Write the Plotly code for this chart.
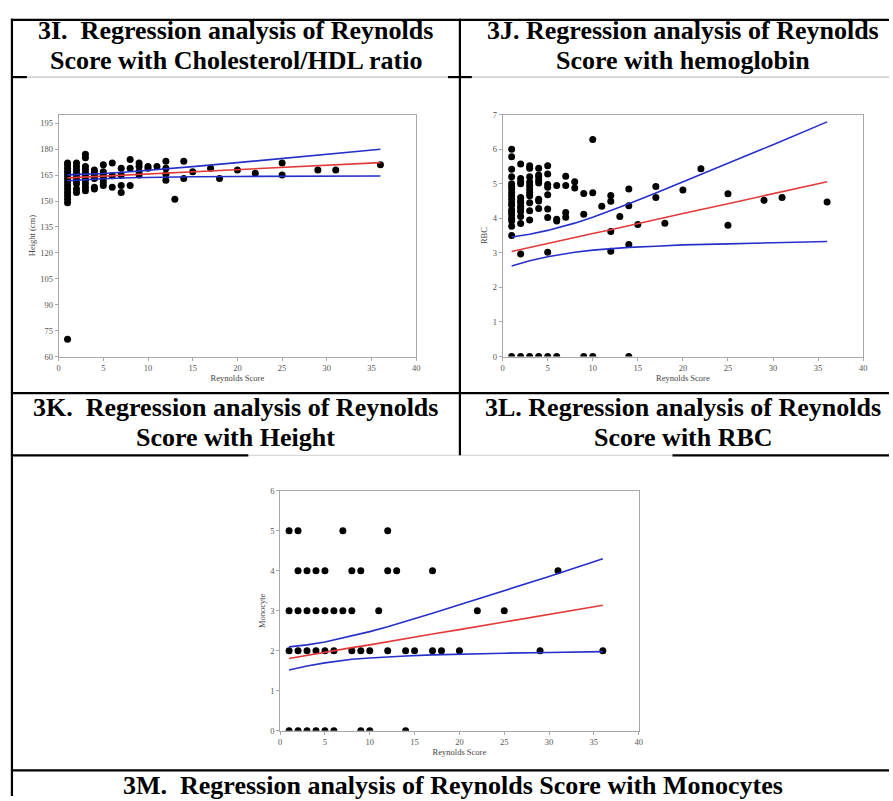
import plotly.graph_objects as go

W, H = 893, 801

# ---------------- Panel 3I (Height vs Reynolds Score) ----------------
h_score = [1, 1, 1, 1, 1, 1, 1, 1, 1, 1, 1, 1, 1, 1,
           2, 2, 2, 2, 2, 2, 2, 2, 2,
           3, 3, 3, 3, 3, 3, 3, 3, 3, 3,
           4, 4, 4, 4, 4, 4,
           5, 5, 5, 5, 5, 5,
           6, 6, 6,
           7, 7, 7, 7,
           8, 8, 8,
           9, 9, 9, 9,
           10, 10, 11,
           12, 12, 12, 12,
           13, 14, 14, 15, 17, 18, 20, 22, 25, 25, 29, 31, 36]
h_height = [149, 151, 153, 155, 157, 159, 161, 163, 165, 167, 169, 171, 172, 70,
            155, 157, 160, 162, 164, 166, 168, 170, 172,
            156, 158, 160, 162, 164, 166, 168, 170, 175, 177,
            157, 158, 163, 165, 167, 168,
            159, 161, 163, 165, 167, 171,
            158, 164.6, 172,
            155, 159, 165, 169,
            159, 169, 174,
            165, 167, 170, 172,
            169, 170, 170,
            162, 165.5, 169, 173,
            151, 163, 173, 167, 169, 163, 168, 166, 165, 172, 168, 168, 171]
h_band_x = [1, 3, 5, 8, 10, 12, 15, 20, 25, 30, 36]
h_fit = [163.4, 163.9, 164.4, 165.2, 165.7, 166.2, 166.9, 168.2, 169.4, 170.7, 172.2]
h_upper = [165.1, 165.4, 165.9, 166.9, 167.7, 168.5, 169.9, 172.2, 174.6, 177.0, 180.0]
h_lower = [161.7, 162.4, 162.9, 163.5, 163.7, 163.9, 164.0, 164.2, 164.3, 164.4, 164.5]
h_ticks = [60, 75, 90, 105, 120, 135, 150, 165, 180, 195]

# ---------------- Panel 3J (RBC vs Reynolds Score) ----------------
r_score = [1, 1, 1, 1, 1, 1, 1, 1, 1, 1, 1, 1, 1, 1, 1, 1, 1, 1, 1, 1,
           2, 2, 2, 2, 2, 2, 2, 2, 2, 2, 2, 2, 2, 2,
           3, 3, 3, 3, 3, 3, 3, 3, 3, 3, 3, 3,
           4, 4, 4, 4, 4, 4, 4, 4, 4,
           5, 5, 5, 5, 5, 5, 5, 5, 5,
           6, 6, 6, 6,
           7, 7, 7, 7,
           8, 8,
           9, 9, 9,
           10, 10, 10,
           11,
           12, 12, 12, 12,
           13,
           14, 14, 14, 14,
           15, 17, 17, 18, 20, 22, 25, 25, 29, 31, 36]
r_rbc = [6.0, 5.78, 5.42, 5.2, 5.0, 4.92, 4.85, 4.75, 4.65, 4.55, 4.45, 4.38, 4.25, 4.18, 4.1, 4.0, 3.92, 3.77, 3.5, 0,
         5.57, 5.15, 5.05, 5.0, 4.6, 4.5, 4.45, 4.35, 4.28, 4.2, 4.05, 3.85, 2.97, 0,
         5.52, 5.45, 5.2, 5.05, 4.95, 4.85, 4.75, 4.65, 4.45, 4.22, 3.95, 0,
         5.45, 5.25, 5.2, 5.1, 5.02, 4.55, 4.5, 4.28, 0,
         5.52, 5.28, 4.98, 4.9, 4.68, 4.27, 4.02, 3.02, 0,
         4.95, 3.97, 3.92, 0,
         5.22, 4.95, 4.17, 4.03,
         5.06, 4.88,
         4.72, 4.12, 0,
         6.28, 4.74, 0,
         4.35,
         4.66, 4.49, 3.62, 3.05,
         4.05,
         4.85, 4.36, 3.24, 0,
         3.82, 4.92, 4.6, 3.86, 4.82, 5.43, 4.71, 3.8, 4.52, 4.6, 4.47]
r_band_x = [1, 3, 5, 8, 10, 12, 14, 17, 20, 25, 30, 36]
r_fit = [3.04, 3.16, 3.27, 3.44, 3.56, 3.67, 3.79, 3.96, 4.14, 4.42, 4.71, 5.06]
r_upper = [3.46, 3.54, 3.65, 3.86, 4.03, 4.22, 4.42, 4.73, 5.05, 5.58, 6.13, 6.79]
r_lower = [2.62, 2.77, 2.89, 3.02, 3.08, 3.12, 3.16, 3.19, 3.23, 3.26, 3.29, 3.33]

# ---------------- Panel 3M (Monocyte vs Reynolds Score) ----------------
m_score = [1, 2, 7, 12,
           2, 3, 4, 5, 8, 9, 12, 13, 17, 31,
           1, 2, 3, 4, 5, 6, 7, 8, 11, 22, 25,
           1, 2, 3, 4, 5, 6, 8, 9, 10, 12, 14, 15, 17, 18, 20, 29, 36,
           1, 2, 3, 4, 5, 6, 9, 10, 14]
m_mono = [5, 5, 5, 5,
          4, 4, 4, 4, 4, 4, 4, 4, 4, 4,
          3, 3, 3, 3, 3, 3, 3, 3, 3, 3, 3,
          2, 2, 2, 2, 2, 2, 2, 2, 2, 2, 2, 2, 2, 2, 2, 2, 2,
          0, 0, 0, 0, 0, 0, 0, 0, 0]
m_band_x = [1, 3, 5, 8, 10, 12, 14, 17, 20, 25, 30, 36]
m_fit = [1.81, 1.89, 1.96, 2.08, 2.15, 2.23, 2.30, 2.42, 2.53, 2.72, 2.91, 3.14]
m_upper = [2.10, 2.15, 2.22, 2.37, 2.48, 2.60, 2.73, 2.94, 3.15, 3.50, 3.86, 4.30]
m_lower = [1.52, 1.62, 1.70, 1.79, 1.82, 1.85, 1.87, 1.90, 1.92, 1.94, 1.96, 1.98]

x_title = "Reynolds Score"
panel_titles = [
    ("3I.\u00a0 Regression analysis of Reynolds", "Score with Cholesterol/HDL ratio"),
    ("3J. Regression analysis of Reynolds", "Score with hemoglobin"),
    ("3K.\u00a0 Regression analysis of Reynolds", "Score with Height"),
    ("3L. Regression analysis of Reynolds", "Score with RBC"),
]
bottom_title = "3M.\u00a0 Regression analysis of Reynolds Score with Monocytes"

BLUE = "#2630c8"
RED = "#e23a3a"
SERIF = "Liberation Serif, Times New Roman, serif"


def px(x):
    return x / W


def py(y):
    return 1 - y / H


fig = go.Figure()


def add_panel(idx, sx, sy, bx, fit, up, lo):
    xa = "x" if idx == 1 else f"x{idx}"
    ya = "y" if idx == 1 else f"y{idx}"
    fig.add_trace(go.Scatter(x=sx, y=sy, mode="markers", xaxis=xa, yaxis=ya,
                             marker=dict(color="black", size=7), showlegend=False))
    fig.add_trace(go.Scatter(x=bx, y=up, mode="lines", xaxis=xa, yaxis=ya,
                             line=dict(color=BLUE, width=1.6), showlegend=False))
    fig.add_trace(go.Scatter(x=bx, y=lo, mode="lines", xaxis=xa, yaxis=ya,
                             line=dict(color=BLUE, width=1.6), showlegend=False))
    fig.add_trace(go.Scatter(x=bx, y=fit, mode="lines", xaxis=xa, yaxis=ya,
                             line=dict(color=RED, width=1.6), showlegend=False))


add_panel(1, h_score, h_height, h_band_x, h_fit, h_upper, h_lower)
add_panel(2, r_score, r_rbc, r_band_x, r_fit, r_upper, r_lower)
add_panel(3, m_score, m_mono, m_band_x, m_fit, m_upper, m_lower)

axis_common = dict(showline=True, linecolor="#a8a8a8", linewidth=1, mirror=True,
                   ticks="outside", ticklen=3, tickcolor="#a8a8a8", showgrid=False,
                   zeroline=False, tickfont=dict(family=SERIF, size=8.5, color="#555"),
                   fixedrange=True)
xt = dict(text=x_title, font=dict(family=SERIF, size=8.5, color="#444"), standoff=3)


def ytitle(t):
    return dict(text=t, font=dict(family=SERIF, size=8.5, color="#444"), standoff=3)


fig.update_layout(
    width=W, height=H, autosize=False,
    margin=dict(l=0, r=0, t=0, b=0),
    paper_bgcolor="white", plot_bgcolor="white",
    xaxis=dict(domain=[px(57), px(417)], range=[0, 40], dtick=5, anchor="y",
               title=xt, **axis_common),
    yaxis=dict(domain=[py(356), py(111)], range=[60, 200], tickvals=h_ticks, anchor="x",
               title=ytitle("Height (cm)"), **axis_common),
    xaxis2=dict(domain=[px(504), px(867)], range=[0, 40], dtick=5, anchor="y2",
                title=xt, **axis_common),
    yaxis2=dict(domain=[py(356), py(111)], range=[0, 7], dtick=1, anchor="x2",
                title=ytitle("RBC"), **axis_common),
    xaxis3=dict(domain=[px(280), px(641)], range=[0, 40], dtick=5, anchor="y3",
                title=xt, **axis_common),
    yaxis3=dict(domain=[py(735), py(492)], range=[0, 6], dtick=1, anchor="x3",
                title=ytitle("Monocyte"), **axis_common),
)

# table rules
shapes = []


def rule(x0, y0, x1, y1, w=2.2, c="black"):
    shapes.append(dict(type="line", xref="paper", yref="paper",
                       x0=px(x0), y0=py(y0), x1=px(x1), y1=py(y1),
                       line=dict(color=c, width=w)))


rule(10, 73, 893, 73, w=1, c="#b0b0b0")
rule(248, 456, 675, 456, w=1, c="#d0d0d0")
rule(9, 15, 893, 15)
rule(10, 14, 10, 801)
rule(461, 14, 461, 456)
rule(10, 73, 25, 73)
rule(449, 73, 473, 73)
rule(9, 393, 893, 393)
rule(9, 456, 248, 456)
rule(675, 456, 893, 456)
rule(9, 775, 893, 775)
fig.update_layout(shapes=shapes)

anns = []
title_font = dict(family=SERIF, size=26, color="black")
centers = [(235.5, 26, 56), (686, 26, 56), (235.5, 408, 438), (686, 408, 438)]
for (l1, l2), (cx, y1, y2) in zip(panel_titles, centers):
    anns.append(dict(text="<b>%s</b>" % l1, x=px(cx), y=py(y1), xref="paper", yref="paper",
                     xanchor="center", yanchor="middle", showarrow=False, font=title_font))
    anns.append(dict(text="<b>%s</b>" % l2, x=px(cx), y=py(y2), xref="paper", yref="paper",
                     xanchor="center", yanchor="middle", showarrow=False, font=title_font))
anns.append(dict(text="<b>%s</b>" % bottom_title, x=px(454), y=py(790), xref="paper", yref="paper",
                 xanchor="center", yanchor="middle", showarrow=False, font=title_font))
fig.update_layout(annotations=anns)

fig.write_html("out.html")
